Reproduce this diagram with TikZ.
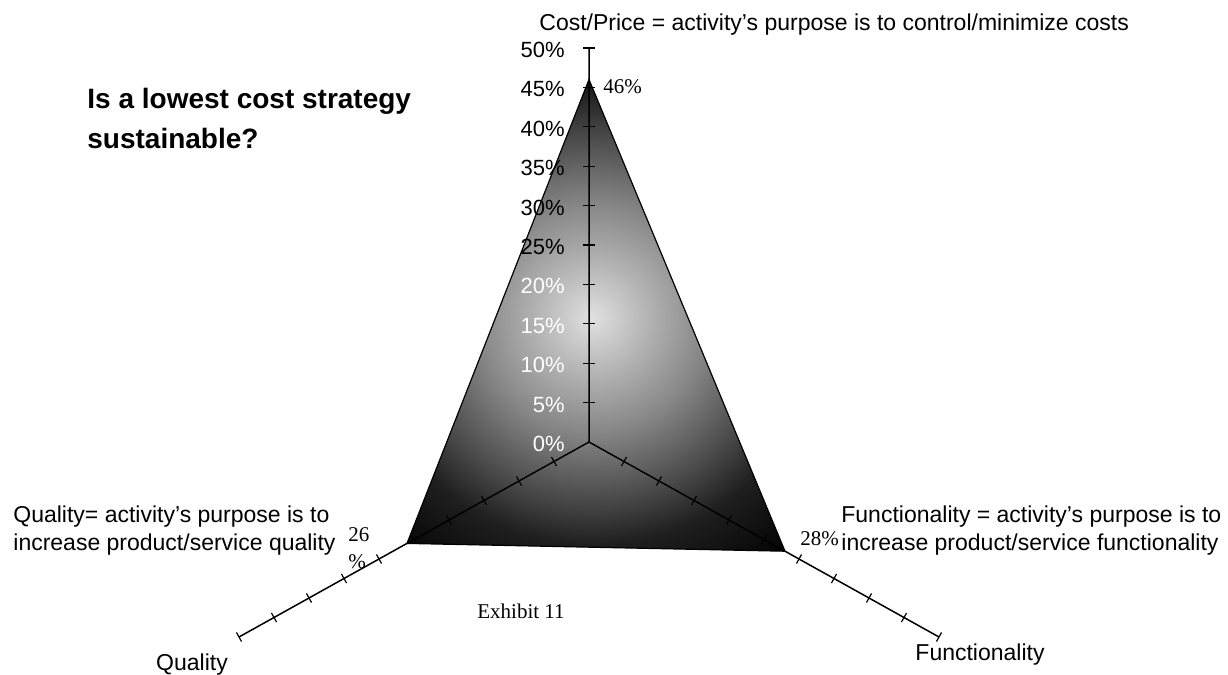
\documentclass[tikz,border=0pt]{standalone}
\usepackage{fontspec}
\setmainfont{Liberation Serif}
\setsansfont{Liberation Sans}
\usetikzlibrary{calc,positioning}

\pgfdeclareradialshading{glow}{\pgfpoint{0bp}{0bp}}{%
  color(0bp)=(black!12); color(4bp)=(black!30); color(8bp)=(black!47);
  color(13bp)=(black!72); color(16bp)=(black!88); color(21bp)=(black!98);
  color(50bp)=(black)}

\begin{document}
\begin{tikzpicture}[x=0.5pt, y=-0.5pt,
    axlbl/.style={font=\sffamily\fontsize{11}{13}\selectfont, inner sep=0pt},
    note/.style={font=\sffamily\fontsize{11.5}{14}\selectfont, inner sep=0pt, align=left},
    val/.style={font=\fontsize{10.5}{13.5}\selectfont, inner sep=0pt, align=left}]
  \useasboundingbox (0,0) rectangle (1228,675);
  \coordinate (O) at (589,442);          % centro (0%)
  \coordinate (T) at (589,48);           % Cost/Price 50%
  \coordinate (L) at (239,637);          % Quality 50%
  \coordinate (R) at (939,637);          % Functionality 50%
  \coordinate (pc) at ($(O)!0.92!(T)$);  % 46%
  \coordinate (pq) at ($(O)!0.52!(L)$);  % 26%
  \coordinate (pf) at ($(O)!0.56!(R)$);  % 28%

  \begin{scope}                          % area sombreada
    \clip (pc) -- (pf) -- (pq) -- cycle;
    \shade[shading=glow] (592,318) circle [radius=354];
  \end{scope}
  \draw[line width=0.6pt] (pc) -- (pf) -- (pq) -- cycle;

  \draw[line width=0.75pt] (T) -- (O) -- (L) (O) -- (R);   % ejes
  \foreach \i in {1,2,3,4,5,6,7,8,9,10} {
      \draw[line width=0.6pt] ($(O)!\i/10!(T)+(-6,0)$) -- ++(12,0);
      \coordinate (q) at ($(O)!\i/10!(L)$);
      \draw[line width=0.6pt] ($(q)!2.6pt!90:(O)$) -- ($(q)!2.6pt!-90:(O)$);
      \coordinate (f) at ($(O)!\i/10!(R)$);
      \draw[line width=0.6pt] ($(f)!2.6pt!90:(O)$) -- ($(f)!2.6pt!-90:(O)$);
  }
  \foreach \v/\c in {0/white,5/white,10/white,15/white,20/white,25/black,30/black,35/black,40/black,45/black,50/black}
      \node[axlbl, anchor=east, text=\c] at ($(O)!\v/50!(T)+(-24,2)$) {\v\%};

  \node[note, anchor=base west] (costlbl) at (539,30) {Cost/Price = activity's purpose is to control/minimize costs};
  \node[font=\sffamily\bfseries\fontsize{14}{20}\selectfont, inner sep=0pt, align=left, anchor=north west] (title) at (87,88) {Is a lowest cost strategy\\sustainable?};
  \node[note, anchor=north west] (qlbl) at (13,505) {Quality= activity's purpose is to\\increase product/service quality};
  \node[note, anchor=north west] (flbl) at (841,505) {Functionality = activity's purpose is to\\increase product/service functionality};
  \node[val, anchor=north west] (qval) at (348,527) {26\\\%};
  \node[val, anchor=base west] (fval) at (800,545) {28\%};
  \node[val, anchor=base west] (cval) at (603,93) {46\%};
  \node[val, anchor=base] (exh) at (521,618) {Exhibit 11};
  \node[note, anchor=base] (qax) at (192,670) {Quality};
  \node[note, anchor=base] (fax) at (980,660) {Functionality};
\end{tikzpicture}
\end{document}
